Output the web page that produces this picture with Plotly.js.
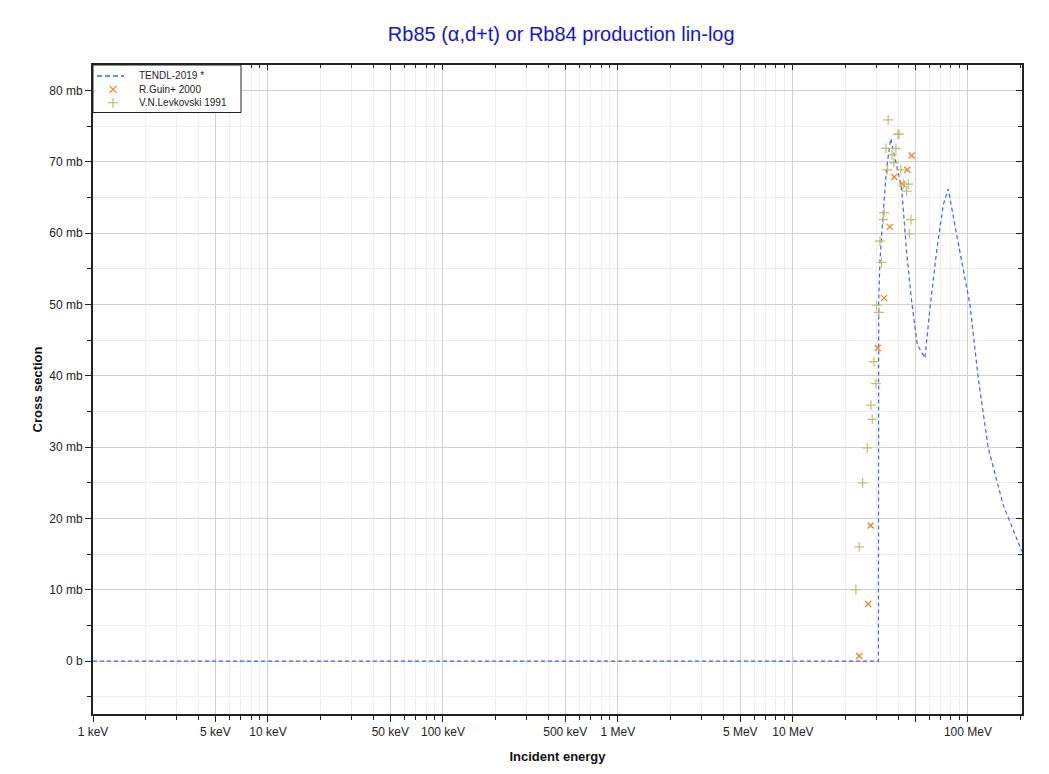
<!DOCTYPE html>
<html>
<head>
<meta charset="utf-8">
<script src="https://cdn.plot.ly/plotly-3.0.1.min.js"></script>
<style>html,body{margin:0;padding:0;background:#fff;}#chart{width:1049px;height:774px;}</style>
</head>
<body>
<div id="chart"></div>
<script>
// TENDL-2019 evaluation (energy in MeV, cross section in mb)
const tendlE = [0.001, 30.8, 30.9, 31.4, 32.8, 34.3, 36.2, 38.3, 41.8, 44.6, 47.7, 51.3, 56.8, 60.7, 66.2, 72.3, 77.2, 86.2, 102.7, 114.5, 130.6, 159, 203];
const tendlS = [0, 0, 50.4, 56.0, 63.0, 69.1, 73.3, 70.5, 66.3, 57.4, 50.4, 44.4, 42.5, 49.5, 57.4, 64.0, 66.2, 59.8, 50.0, 39.7, 29.9, 21.9, 15.4];

// R.Guin+ 2000
const guinE = [47.7, 45.0, 37.9, 42.3, 35.8, 33.2, 30.5, 27.8, 26.9, 23.9];
const guinS = [70.9, 68.9, 67.9, 66.9, 60.9, 50.9, 43.9, 19.0, 8.0, 0.7];

// V.N.Levkovski 1991
const levE = [35.0, 39.8, 40.3, 34.0, 38.8, 36.8, 37.8, 34.6, 41.4, 42.7, 45.6, 44.6, 33.2, 32.8, 47.3, 46.2, 31.4, 32.1, 30.1, 31.0, 29.0, 29.8, 27.9, 28.4, 26.6, 25.0, 23.9, 22.9];
const levS = [75.9, 73.9, 73.9, 71.9, 71.9, 71.0, 69.9, 68.9, 68.9, 66.9, 66.9, 65.9, 62.9, 61.9, 61.9, 59.9, 58.9, 55.9, 49.9, 48.9, 42.0, 38.9, 35.9, 33.9, 29.9, 25.0, 16.0, 10.0];

// series names and tick labels
const seriesNames = ["TENDL-2019 *", "R.Guin+ 2000", "V.N.Levkovski 1991"];
const xTickVals = [0.001, 0.005, 0.01, 0.05, 0.1, 0.5, 1, 5, 10, 50, 100];
const xTickText = ["1 keV", "5 keV", "10 keV", "50 keV", "100 keV", "500 keV", "1 MeV", "5 MeV", "10 MeV", "", "100 MeV"];
const yTickVals = [0, 10, 20, 30, 40, 50, 60, 70, 80];
const yTickText = ["0 b", "10 mb", "20 mb", "30 mb", "40 mb", "50 mb", "60 mb", "70 mb", "80 mb"];

const xMinor = [];
for (let d = -3; d <= 2; d++) {
  for (const m of [2, 3, 4, 6, 7, 8, 9]) {
    const v = m * Math.pow(10, d);
    if (v <= 203) xMinor.push(v);
  }
}
const yMinor = [-5, 5, 15, 25, 35, 45, 55, 65, 75];

const xRange = [-3, Math.log10(203.7)];
const yRange = [-7.43, 83.6];
const font = 'Liberation Sans, Arial, sans-serif';

const W = 1049, H = 774, M = {l: 93, r: 27, t: 65, b: 60};
const PW = W - M.l - M.r, PH = H - M.t - M.b;
const BLUE = '#3a66e8', ORANGE = '#f58220', OLIVE = '#c2bd72';

const traces = [
  {x: tendlE, y: tendlS, type: 'scatter', mode: 'lines', name: seriesNames[0],
   line: {color: BLUE, width: 1.2, dash: '4px,3px'}},
  {x: guinE, y: guinS, type: 'scatter', mode: 'markers', name: seriesNames[1],
   marker: {symbol: 'x-thin-open', size: 6, color: ORANGE, line: {color: ORANGE, width: 1.3}}},
  {x: levE, y: levS, type: 'scatter', mode: 'markers', name: seriesNames[2],
   marker: {symbol: 'cross-thin-open', size: 7, color: OLIVE, line: {color: OLIVE, width: 1.2}}},
  {x: [1], y: [0], xaxis: 'x2', yaxis: 'y2', mode: 'markers', showlegend: false, hoverinfo: 'skip',
   marker: {opacity: 0}}
];

// legend drawn in paper coordinates (pixel offsets from plot's top-left corner)
const px = v => v / PW, py = v => 1 - v / PH;
const legendRows = [11, 24.3, 37.7];
const shapes = [
  {type: 'rect', xref: 'paper', yref: 'paper', x0: 0, x1: px(148), y0: py(47.5), y1: 1,
   line: {color: '#222', width: 1}, fillcolor: '#fff', layer: 'above'},
  {type: 'line', xref: 'paper', yref: 'paper', x0: px(4), x1: px(31), y0: py(legendRows[0]), y1: py(legendRows[0]),
   line: {color: BLUE, width: 1.5, dash: '5px,3px'}, layer: 'above'},
  {type: 'line', xref: 'paper', yref: 'paper', x0: px(16.5), x1: px(23.5), y0: py(legendRows[1] - 3.5), y1: py(legendRows[1] + 3.5),
   line: {color: ORANGE, width: 1.2}, layer: 'above'},
  {type: 'line', xref: 'paper', yref: 'paper', x0: px(16.5), x1: px(23.5), y0: py(legendRows[1] + 3.5), y1: py(legendRows[1] - 3.5),
   line: {color: ORANGE, width: 1.2}, layer: 'above'},
  {type: 'line', xref: 'paper', yref: 'paper', x0: px(15), x1: px(25), y0: py(legendRows[2]), y1: py(legendRows[2]),
   line: {color: OLIVE, width: 1.2}, layer: 'above'},
  {type: 'line', xref: 'paper', yref: 'paper', x0: px(20), x1: px(20), y0: py(legendRows[2] - 5), y1: py(legendRows[2] + 5),
   line: {color: OLIVE, width: 1.2}, layer: 'above'}
];
const annotations = seriesNames.map((n, i) => ({
  text: n, xref: 'paper', yref: 'paper', x: px(44), y: py(legendRows[i]), xanchor: 'left', yanchor: 'middle',
  showarrow: false, font: {family: font, size: 10, color: '#222'}
}));

const layout = {
  width: W, height: H,
  margin: M,
  paper_bgcolor: '#fff', plot_bgcolor: '#fff',
  font: {family: font, size: 12, color: '#222'},
  title: {text: 'Rb85 (α,d+t) or Rb84 production lin-log', x: 0.535, xanchor: 'center', y: 1 - 34 / H, yanchor: 'middle',
          font: {family: font, size: 20, color: '#1515d0'}},
  showlegend: false,
  shapes: shapes,
  annotations: annotations,
  xaxis: {
    type: 'log', range: xRange, tickmode: 'array', tickvals: xTickVals, ticktext: xTickText,
    ticks: 'outside', ticklen: 6, tickcolor: '#222', showline: true, linecolor: '#222', linewidth: 2,
    showgrid: true, gridcolor: '#d0d0d0', gridwidth: 1, zeroline: false,
    tickfont: {family: font, size: 12, color: '#222'},
    minor: {tickmode: 'array', tickvals: xMinor, ticks: 'outside', ticklen: 4, tickcolor: '#222',
            showgrid: true, gridcolor: '#efefef', gridwidth: 1},
    title: {text: 'Incident energy', font: {family: font, size: 13, color: '#111', weight: 'bold'}, standoff: 13}
  },
  yaxis: {
    range: yRange, tickmode: 'array', tickvals: yTickVals, ticktext: yTickText,
    ticks: 'outside', ticklen: 6, tickcolor: '#222', showline: true, linecolor: '#222', linewidth: 2,
    showgrid: true, gridcolor: '#d0d0d0', gridwidth: 1, zeroline: false,
    tickfont: {family: font, size: 12, color: '#222'},
    minor: {tickmode: 'array', tickvals: yMinor, ticks: 'outside', ticklen: 4, tickcolor: '#222',
            showgrid: true, gridcolor: '#efefef', gridwidth: 1},
    title: {text: 'Cross section', font: {family: font, size: 13, color: '#111', weight: 'bold'}, standoff: 4}
  },
  xaxis2: {
    type: 'log', range: xRange, overlaying: 'x', side: 'top', anchor: 'y2',
    tickmode: 'array', tickvals: xTickVals, ticks: 'inside', ticklen: 5, tickcolor: '#222',
    showticklabels: false, showgrid: false, zeroline: false, showline: true, linecolor: '#222', linewidth: 2,
    minor: {tickmode: 'array', tickvals: xMinor, ticks: 'inside', ticklen: 3, tickcolor: '#222', showgrid: false}
  },
  yaxis2: {
    range: yRange, overlaying: 'y', side: 'right', anchor: 'x2',
    tickmode: 'array', tickvals: yTickVals, ticks: 'inside', ticklen: 6, tickcolor: '#222',
    showticklabels: false, showgrid: false, zeroline: false, showline: true, linecolor: '#222', linewidth: 2,
    minor: {tickmode: 'array', tickvals: yMinor, ticks: 'inside', ticklen: 4, tickcolor: '#222', showgrid: false}
  }
};

Plotly.newPlot('chart', traces, layout, {displayModeBar: false, staticPlot: true});
</script>
</body>
</html>
